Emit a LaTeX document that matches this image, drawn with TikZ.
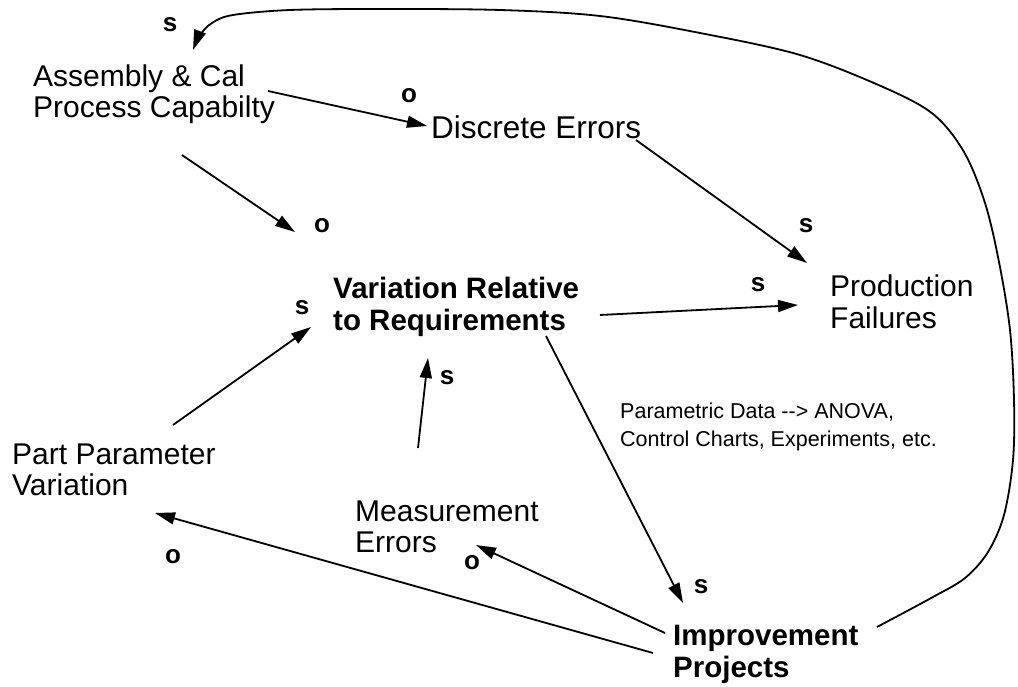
\documentclass[tikz,border=0pt]{standalone}
\usepackage{fontspec}
\setmainfont{Liberation Sans}
\usetikzlibrary{arrows.meta,calc}

\tikzset{
  txt/.style={font=\fontsize{30}{31.5}\selectfont, align=left, inner sep=0pt, anchor=west},
  btxt/.style={font=\bfseries\fontsize{29.5}{32}\selectfont, align=left, inner sep=0pt, anchor=west},
  note/.style={font=\fontsize{21.5}{28}\selectfont, align=left, inner sep=0pt, anchor=west},
  pol/.style={font=\bfseries\fontsize{26}{26}\selectfont, inner sep=0pt},
  link/.style={line width=1.8pt, -{Triangle[length=20pt,width=12pt]}},
  loopline/.style={line width=1.8pt, line join=round, -{Triangle[length=20pt,width=12pt]}}
}

\begin{document}
\begin{tikzpicture}[x=1pt,y=-1pt]
  \useasboundingbox (0,0) rectangle (1018,687);

  % variables
  \node[txt]  (asm)  at (33,94)   {Assembly \& Cal\\Process Capabilty};
  \node[txt, font=\fontsize{31.5}{32}\selectfont] (disc) at (431,127) {Discrete Errors};
  \node[btxt] (var)  at (333,307) {Variation Relative\\to Requirements};
  \node[txt]  (prod) at (830,302) {Production\\Failures};
  \node[txt]  (part) at (12,470)  {Part Parameter\\Variation};
  \node[txt]  (meas) at (355,527) {Measurement\\Errors};
  \node[btxt] (imp)  at (673,654) {Improvement\\Projects};
  \node[note] (data) at (620,427) {Parametric Data -\kern0pt-> ANOVA,\\Control Charts, Experiments, etc.};

  % causal links
  \draw[link] ($(asm.west)+(235,-3)$)  -- ($(disc.west)+(-4,-1)$);
  \draw[link] ($(asm.west)+(149,61)$)  -- ($(var.west)+(-38,-75)$);
  \draw[link] ($(disc.west)+(205,13)$) -- ($(prod.west)+(-23,-39)$);
  \draw[link] ($(var.west)+(267,8)$)   -- ($(prod.west)+(-32,3)$);
  \draw[link] ($(part.west)+(161,-45)$) -- ($(var.west)+(-22,20)$);
  \draw[link] ($(meas.west)+(63,-79)$) -- ($(var.west)+(95,51)$);
  \draw[link] ($(var.west)+(213,29)$)  -- ($(imp.west)+(10,-51)$);
  \draw[link] ($(imp.west)+(-8,-21)$)  -- ($(meas.west)+(121,18)$);
  \draw[link] ($(imp.west)+(-20,-1)$)  -- ($(part.west)+(143,43)$);

  % feedback loop from the projects back to process capability
  \coordinate (loopA) at ($(imp.west)+(204,-27)$);
  \coordinate (loopB) at ($(asm.west)+(160,-44)$);
  \draw[loopline] plot[smooth, tension=0.55] coordinates {
    (loopA) (933,597) (965,578) (988,552) (1004,515) (1013,460) (1014,400)
    (1010,330) (999,262) (985,203) (964,152) (933,114) (883,87)
    (800,55) (700,33) (600,16) (500,10) (380,9) (290,10) (233,15)
    (212,23) (200,35) (loopB)};

  % link polarities
  \node[pol] (p1)  at (170,25)  {s};
  \node[pol] (p2)  at (409,96)  {o};
  \node[pol] (p3)  at (322,226) {o};
  \node[pol] (p4)  at (806,226) {s};
  \node[pol] (p5)  at (758,285) {s};
  \node[pol] (p6)  at (302,308) {s};
  \node[pol] (p7)  at (447,378) {s};
  \node[pol] (p8)  at (173,557) {o};
  \node[pol] (p9)  at (472,563) {o};
  \node[pol] (p10) at (701,587) {s};
\end{tikzpicture}
\end{document}
